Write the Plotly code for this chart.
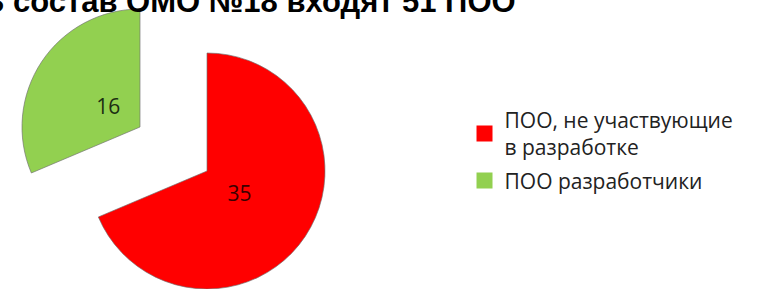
import plotly.graph_objects as go

# ---- data ----
title_text = "В состав ОМО №18 входят 51 ПОО"
categories = ["ПОО, не участвующие<br>в разработке", "ПОО разработчики"]
values = [35, 16]
colors = ["#ff0000", "#92d050"]
text_colors = ["#3a0000", "#1c2e12"]

W, H = 759, 289
CLEAR = "rgba(0,0,0,0)"
EDGE = "rgba(110,110,110,0.65)"


def px_domain(cx, cy, r):
    """Square domain (paper fractions) for a pie of radius r centred at pixel (cx, cy)."""
    return dict(x=[(cx - r) / W, (cx + r) / W],
                y=[(H - cy - r) / H, (H - cy + r) / H])


fig = go.Figure()

# legend sources (tiny, hidden under the red slice), one per legend group
for i in range(len(categories)):
    fig.add_trace(go.Pie(
        labels=[categories[i]], values=[values[i]], sort=False, direction="clockwise",
        marker=dict(colors=[colors[i]], line=dict(color=[colors[i]], width=4)),
        textinfo="none", hoverinfo="skip", showlegend=True,
        legendgroup=f"g{i}",
        domain=px_domain(265, 235, 0.3),
    ))

# red slice (main position)
fig.add_trace(go.Pie(
    labels=categories, values=values, sort=False, direction="clockwise",
    marker=dict(colors=[colors[0], CLEAR], line=dict(color=[EDGE, CLEAR], width=1)),
    textinfo="none", hoverinfo="skip", showlegend=False,
    domain=px_domain(207, 171, 118),
))

# green slice (exploded position)
fig.add_trace(go.Pie(
    labels=categories, values=values, sort=False, direction="clockwise",
    marker=dict(colors=[CLEAR, colors[1]], line=dict(color=[CLEAR, EDGE], width=1)),
    textinfo="none", hoverinfo="skip", showlegend=False,
    domain=px_domain(140, 127, 118),
))

# value labels
fig.add_trace(go.Pie(
    labels=categories, values=values, sort=False, direction="clockwise",
    marker=dict(colors=[CLEAR, CLEAR], line=dict(width=0)),
    text=[str(values[0]), ""], textinfo="text", textposition="inside",
    insidetextorientation="horizontal",
    textfont=dict(family="Open Sans", size=21, color=text_colors),
    hoverinfo="skip", showlegend=False,
    domain=px_domain(207, 171, 78),
))
fig.add_trace(go.Pie(
    labels=categories, values=values, sort=False, direction="clockwise",
    marker=dict(colors=[CLEAR, CLEAR], line=dict(width=0)),
    text=["", str(values[1])], textinfo="text", textposition="inside",
    insidetextorientation="horizontal",
    textfont=dict(family="Open Sans", size=21, color=text_colors),
    hoverinfo="skip", showlegend=False,
    domain=px_domain(140, 127, 70),
))

fig.update_layout(
    width=W, height=H, autosize=False,
    margin=dict(l=0, r=0, t=0, b=0),
    paper_bgcolor="white", plot_bgcolor="white",
    showlegend=True,
    legend=dict(
        x=0.612, xanchor="left", y=0.655, yanchor="top",
        font=dict(family="Open Sans", size=21, color="#222222"),
        bgcolor="rgba(0,0,0,0)", tracegroupgap=3, traceorder="grouped",
        itemclick=False,
    ),
    annotations=[dict(
        text=title_text, xref="paper", yref="paper",
        x=518 / W, xanchor="right", y=(H - 1) / H, yanchor="middle",
        showarrow=False,
        font=dict(family="Liberation Sans", size=31, color="black", weight="bold"),
    )],
)

fig.write_html("out.html", config={"displayModeBar": False},
               post_script="document.body.style.margin='0';")
